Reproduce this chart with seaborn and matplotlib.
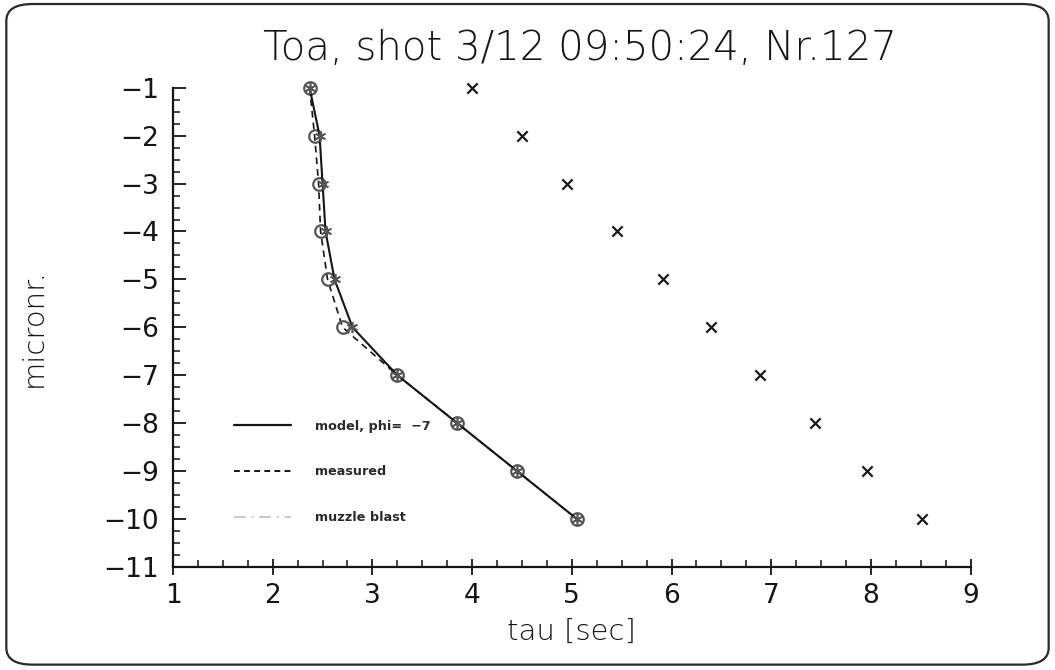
import matplotlib
matplotlib.use("Agg")
import matplotlib.pyplot as plt
import seaborn as sns
import pandas as pd
from matplotlib.lines import Line2D
from matplotlib.patches import FancyBboxPatch
from matplotlib.ticker import MultipleLocator

# ---- data ----
micronr = [-1, -2, -3, -4, -5, -6, -7, -8, -9, -10]
tau_model = [2.37, 2.47, 2.50, 2.53, 2.62, 2.80, 3.25, 3.85, 4.45, 5.05]
tau_measured = [2.37, 2.42, 2.46, 2.48, 2.55, 2.70, 3.25, 3.85, 4.45, 5.05]
tau_muzzle = [4.00, 4.50, 4.95, 5.45, 5.91, 6.40, 6.89, 7.44, 7.96, 8.51]

title = "Toa, shot 3/12 09:50:24, Nr.127"
xlabel = "tau [sec]"
ylabel = "micronr."
legend_labels = ["model, phi=  \u22127", "measured", "muzzle blast"]

df = pd.DataFrame({"micronr": micronr, "model": tau_model,
                   "measured": tau_measured, "muzzle": tau_muzzle})

sns.set_theme(style="white")
plt.rcParams["font.family"] = ["DejaVu Sans"]
plt.rcParams["axes.unicode_minus"] = True

fig = plt.figure(figsize=(10.55, 6.7), dpi=100)
ax = fig.add_axes([0.164, 0.154, 0.756, 0.715])

# rounded frame around the whole figure
frame = FancyBboxPatch((0.006, 0.008), 0.988, 0.986,
                       boxstyle="round,pad=0,rounding_size=0.025",
                       transform=fig.transFigure, fill=False,
                       edgecolor="#2a2a2a", linewidth=1.6)
fig.patches.append(frame)

ink = "#151515"

sns.lineplot(data=df, x="measured", y="micronr", ax=ax, sort=False,
             color=ink, linestyle=(0, (4, 3)), linewidth=1.2,
             marker="o", markersize=9, markerfacecolor="none",
             markeredgecolor="#555555", markeredgewidth=1.6, estimator=None,
             clip_on=False)
sns.lineplot(data=df, x="model", y="micronr", ax=ax, sort=False,
             color=ink, linewidth=1.5,
             marker=(6, 2, 0), markersize=8, markeredgecolor="#555555",
             markeredgewidth=1.2, estimator=None, clip_on=False)
sns.scatterplot(data=df, x="muzzle", y="micronr", ax=ax, marker="x",
                s=55, color="#1a1a1a", linewidth=1.6, clip_on=False)

ax.set_xlim(1, 9)
ax.set_ylim(-11, -1)
ax.xaxis.set_major_locator(MultipleLocator(1))
ax.xaxis.set_minor_locator(MultipleLocator(0.25))
ax.yaxis.set_major_locator(MultipleLocator(1))
ax.yaxis.set_minor_locator(MultipleLocator(0.25))

for s in ["top", "right"]:
    ax.spines[s].set_visible(False)
for s in ["left", "bottom"]:
    ax.spines[s].set_color(ink)
    ax.spines[s].set_linewidth(1.6)

ax.tick_params(axis="x", which="major", direction="inout", length=12,
               width=1.3, color=ink, labelsize=19, pad=6, labelcolor=ink)
ax.tick_params(axis="x", which="minor", direction="in", length=5,
               width=1.1, color=ink)
ax.tick_params(axis="y", which="major", direction="in", length=9,
               width=1.3, color=ink, labelsize=19, pad=10, labelcolor=ink)
ax.tick_params(axis="y", which="minor", direction="in", length=5,
               width=1.1, color=ink)
ax.tick_params(left=True, bottom=True, which="both")

ax.set_xlabel(xlabel, fontsize=21, color=ink, labelpad=6, fontweight="light")
ax.set_ylabel(ylabel, fontsize=21, color=ink, labelpad=40, fontweight="light")
fig.text(0.55, 0.928, title, ha="center", va="center", fontsize=29,
         color=ink, fontweight="light")

handles = [
    Line2D([], [], color=ink, linewidth=1.6),
    Line2D([], [], color=ink, linewidth=1.4, linestyle=(0, (3, 2.2))),
    Line2D([], [], color="#c8c8c8", linewidth=1.4, linestyle=(0, (6, 3, 1, 3))),
]
leg = ax.legend(handles, legend_labels, loc="center left",
                bbox_to_anchor=(0.077, 0.198), frameon=False, fontsize=9.2,
                handlelength=4.4, handletextpad=1.9, labelspacing=2.55,
                borderpad=0, borderaxespad=0)
for t in leg.get_texts():
    t.set_fontweight("bold")
    t.set_color("#2a2a2a")

fig.savefig("out.png", dpi=100)
